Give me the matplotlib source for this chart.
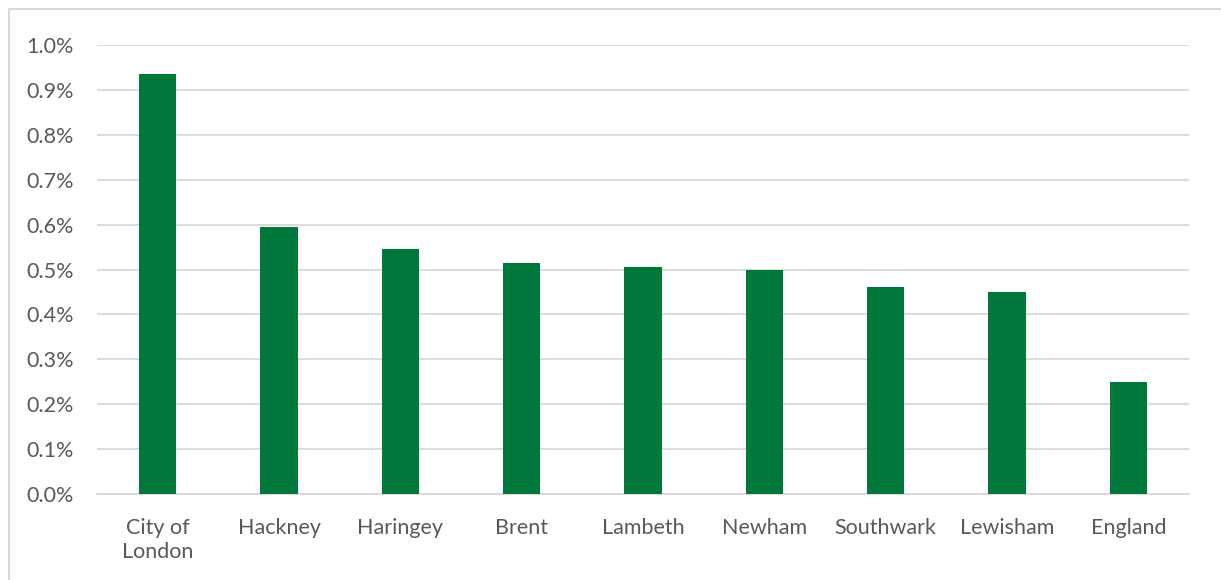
import matplotlib.pyplot as plt
from matplotlib.patches import Rectangle
from matplotlib.ticker import PercentFormatter

areas = ["City of\nLondon", "Hackney", "Haringey", "Brent", "Lambeth",
         "Newham", "Southwark", "Lewisham", "England"]
rates = [0.935, 0.595, 0.546, 0.515, 0.506, 0.499, 0.460, 0.450, 0.250]

plt.rcParams['font.family'] = ['Lato', 'DejaVu Sans']
text_grey = "#595959"
grid_grey = "#D9D9D9"

fig = plt.figure(figsize=(12.21, 5.80), dpi=100)
# chart frame
fig.patches.append(Rectangle((9 / 1221, -0.1), 1.2, 1 - 9 / 580 + 0.1,
                             transform=fig.transFigure, fill=False,
                             edgecolor=grid_grey, linewidth=1.5))

ax = fig.add_axes([97 / 1221, 1 - 494 / 580, 1092 / 1221, 449 / 580])
x = range(len(areas))
ax.bar(x, rates, width=0.31, color="#00783C", zorder=3)

ax.set_xlim(-0.5, len(areas) - 0.5)
ax.set_ylim(0, 1.0)
ax.set_yticks([i / 10 for i in range(11)])
ax.yaxis.set_major_formatter(PercentFormatter(decimals=1))
ax.set_xticks(list(x))
ax.set_xticklabels(areas, linespacing=1.3)

ax.grid(axis="y", color=grid_grey, linewidth=1.3, zorder=0)
for side in ["top", "right", "left"]:
    ax.spines[side].set_visible(False)
ax.spines["bottom"].set_color(grid_grey)
ax.spines["bottom"].set_linewidth(1.3)
ax.tick_params(axis="both", length=0, labelsize=15.5, colors=text_grey)
ax.tick_params(axis="y", pad=17)
ax.tick_params(axis="x", pad=17)

fig.savefig("out.png", dpi=100)
